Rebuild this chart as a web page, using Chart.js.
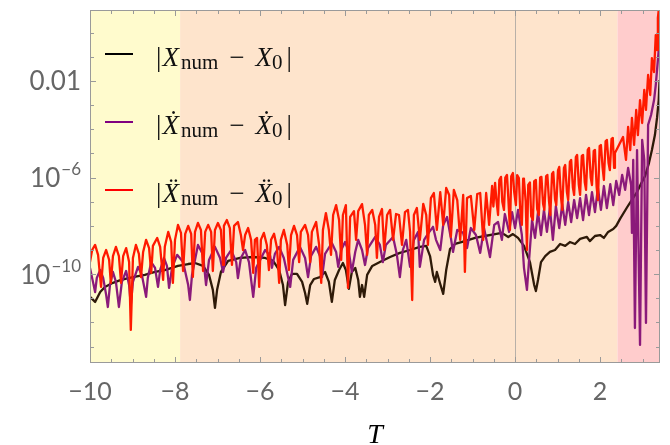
<!DOCTYPE html>
<html>
<head>
<meta charset="utf-8">
<script src="https://cdn.jsdelivr.net/npm/chart.js@4.4.0/dist/chart.umd.min.js"></script>
<style>
  html, body { margin: 0; padding: 0; background: #ffffff; }
  #wrap { width: 670px; height: 445px; }
</style>
</head>
<body>
<div id="wrap"><canvas id="c" width="670" height="445"></canvas></div>
<script>
// ---------------- data (T, log10 of the error) ----------------
const xTickValues = [-10, -8, -6, -4, -2, 0, 2];
const yLabelExps = [-2, -6, -10];
const yLabelTexts = [["0.01", ""], ["10", "−6"], ["10", "−10"]];
const regionEdges = [-10, -7.88, 2.41, 3.41];
const legendLabels = ["X", "Ẋ", "Ẍ"];

const blackT = [-10,-9.88,-9.76,-9.65,-9.46,-9.27,-8.99,-8.71,-8.47,-8.24,-7.93,-7.69,-7.53,-7.34,-7.20,-7.11,-7.06,-7.01,-6.92,-6.75,-6.47,-6.16,-5.88,-5.69,-5.55,-5.46,-5.41,-5.34,-5.25,-5.13,-5.01,-4.94,-4.89,-4.82,-4.73,-4.59,-4.47,-4.38,-4.31,-4.24,-4.14,-4.05,-3.98,-3.91,-3.84,-3.76,-3.69,-3.65,-3.60,-3.55,-3.48,-3.36,-3.18,-2.94,-2.71,-2.47,-2.24,-2.09,-2.00,-1.93,-1.88,-1.84,-1.76,-1.69,-1.62,-1.53,-1.41,-1.18,-0.94,-0.71,-0.47,-0.31,-0.16,-0.05,0.07,0.21,0.35,0.45,0.49,0.54,0.61,0.71,0.82,0.94,1.06,1.18,1.29,1.41,1.53,1.69,1.76,1.88,2.00,2.09,2.19,2.31,2.38,2.47,2.64,2.76,2.87,2.96,3.06,3.15,3.22,3.29,3.34,3.38,3.40];
const blackV = [-10.94,-11.15,-10.74,-10.53,-10.36,-10.24,-10.12,-10.03,-9.91,-9.83,-9.66,-9.58,-9.54,-9.66,-10.03,-10.65,-11.40,-10.65,-9.91,-9.45,-9.33,-9.29,-9.33,-9.45,-9.83,-10.45,-11.28,-10.32,-9.99,-9.99,-10.32,-10.78,-11.23,-10.45,-10.20,-10.12,-9.91,-10.32,-11.15,-10.24,-9.83,-9.54,-9.83,-10.61,-9.91,-9.74,-10.24,-10.94,-10.45,-10.94,-10.03,-9.66,-9.50,-9.29,-9.12,-9.00,-8.87,-8.83,-9.25,-10.03,-10.32,-9.91,-10.41,-10.82,-9.83,-8.96,-8.75,-8.63,-8.50,-8.42,-8.34,-8.29,-8.46,-8.34,-8.50,-8.83,-9.50,-10.45,-10.70,-10.24,-9.50,-9.25,-9.08,-9.00,-8.75,-8.83,-8.67,-8.75,-8.54,-8.46,-8.63,-8.42,-8.38,-8.50,-8.25,-8.13,-8.00,-7.71,-7.22,-6.89,-6.60,-6.27,-5.93,-5.40,-4.86,-4.24,-3.53,-2.79,-1.96];

const purpleT = [-10,-9.93,-9.88,-9.84,-9.76,-9.69,-9.62,-9.58,-9.53,-9.46,-9.39,-9.32,-9.25,-9.15,-9.08,-9.04,-8.99,-8.87,-8.78,-8.68,-8.64,-8.56,-8.47,-8.40,-8.35,-8.26,-8.19,-8.14,-8.07,-7.95,-7.81,-7.69,-7.65,-7.60,-7.46,-7.34,-7.27,-7.20,-7.06,-6.94,-6.87,-6.80,-6.68,-6.56,-6.52,-6.45,-6.35,-6.26,-6.16,-6.09,-5.88,-5.76,-5.72,-5.65,-5.55,-5.44,-5.29,-5.22,-5.06,-4.94,-4.87,-4.80,-4.68,-4.59,-4.54,-4.47,-4.31,-4.21,-4.16,-4.09,-4.00,-3.91,-3.84,-3.76,-3.69,-3.60,-3.53,-3.46,-3.29,-3.18,-3.11,-3.04,-2.87,-2.78,-2.71,-2.64,-2.56,-2.47,-2.38,-2.28,-2.24,-2.14,-2.05,-1.93,-1.86,-1.76,-1.69,-1.60,-1.51,-1.46,-1.36,-1.22,-1.13,-1.04,-0.92,-0.82,-0.73,-0.59,-0.49,-0.40,-0.31,-0.24,-0.14,-0.07,0.00,0.07,0.16,0.21,0.28,0.33,0.40,0.47,0.54,0.61,0.68,0.75,0.82,0.89,0.96,1.04,1.11,1.18,1.25,1.32,1.39,1.46,1.53,1.60,1.67,1.74,1.81,1.88,1.95,2.02,2.09,2.16,2.24,2.31,2.38,2.45,2.52,2.59,2.66,2.73,2.75,2.78,2.82,2.87,2.94,2.99,3.04,3.08,3.13,3.20,3.27,3.31,3.36,3.40];
const purpleV = [-9.74,-10.32,-10.74,-10.16,-9.83,-10.16,-10.86,-11.36,-10.45,-9.91,-10.32,-11.36,-10.32,-9.87,-10.45,-11.28,-10.32,-9.70,-10.03,-10.94,-10.16,-9.50,-9.74,-10.53,-9.83,-9.33,-9.66,-10.57,-9.74,-9.20,-9.50,-10.45,-11.07,-10.03,-8.79,-9.20,-10.45,-9.41,-8.87,-9.33,-9.91,-9.33,-9.00,-9.50,-10.16,-9.33,-9.00,-9.50,-10.94,-9.74,-9.00,-9.25,-9.74,-9.16,-8.87,-9.33,-10.53,-9.41,-8.87,-9.33,-10.12,-9.25,-8.87,-9.25,-10.12,-9.16,-8.71,-9.08,-9.70,-9.00,-8.67,-9.08,-9.91,-9.08,-8.58,-9.00,-9.62,-8.92,-8.46,-8.79,-9.50,-8.79,-8.46,-9.20,-10.12,-9.00,-8.58,-9.70,-8.58,-8.25,-9.70,-8.58,-8.33,-8.04,-8.58,-9.00,-7.96,-7.63,-8.50,-9.08,-8.17,-8.29,-8.92,-8.09,-8.38,-9.12,-8.09,-9.29,-7.96,-7.84,-8.58,-7.51,-8.25,-7.43,-8.09,-7.34,-8.38,-9.74,-10.65,-9.41,-7.76,-8.50,-7.43,-8.38,-7.34,-8.25,-7.26,-8.58,-7.18,-8.09,-7.10,-7.96,-7.01,-7.84,-6.93,-7.68,-6.85,-7.76,-6.72,-7.55,-6.60,-7.43,-6.43,-7.34,-6.35,-7.26,-6.27,-7.14,-6.14,-6.72,-5.89,-6.51,-5.60,-6.31,-8.29,-5.27,-12.23,-4.86,-12.93,-4.44,-5.27,-12.02,-3.82,-3.41,-2.79,-2.17,-1.13,-0.30];

const redT = [-10,-9.95,-9.88,-9.81,-9.74,-9.69,-9.62,-9.55,-9.51,-9.46,-9.39,-9.32,-9.27,-9.22,-9.15,-9.08,-9.04,-8.99,-8.92,-8.85,-8.80,-8.75,-8.68,-8.61,-8.56,-8.52,-8.42,-8.35,-8.28,-8.24,-8.16,-8.09,-8.05,-8.00,-7.93,-7.86,-7.81,-7.76,-7.69,-7.62,-7.58,-7.53,-7.46,-7.39,-7.34,-7.29,-7.22,-7.15,-7.11,-7.06,-6.99,-6.92,-6.87,-6.85,-6.78,-6.71,-6.66,-6.61,-6.52,-6.45,-6.40,-6.35,-6.28,-6.21,-6.16,-6.12,-6.07,-6.02,-5.98,-5.91,-5.84,-5.79,-5.74,-5.67,-5.60,-5.55,-5.51,-5.44,-5.36,-5.32,-5.27,-5.20,-5.13,-5.08,-5.04,-4.94,-4.87,-4.82,-4.78,-4.68,-4.61,-4.56,-4.52,-4.45,-4.38,-4.33,-4.28,-4.21,-4.14,-4.09,-4.05,-3.98,-3.93,-3.88,-3.79,-3.74,-3.69,-3.60,-3.53,-3.48,-3.44,-3.36,-3.29,-3.25,-3.20,-3.13,-3.08,-3.01,-2.94,-2.87,-2.80,-2.73,-2.66,-2.59,-2.52,-2.47,-2.42,-2.38,-2.31,-2.24,-2.16,-2.09,-2.05,-1.98,-1.91,-1.84,-1.76,-1.69,-1.62,-1.55,-1.51,-1.44,-1.36,-1.29,-1.22,-1.18,-1.13,-1.04,-0.96,-0.89,-0.82,-0.75,-0.68,-0.61,
  -0.54,-0.51,-0.47,-0.44,-0.40,-0.37,-0.33,-0.30,-0.26,-0.23,-0.19,-0.16,-0.12,-0.09,-0.05,-0.02,0.02,0.05,0.09,0.12,0.16,0.19,0.21,0.25,0.28,0.31,0.35,0.38,0.42,0.45,0.49,0.52,0.56,0.59,0.62,0.66,0.69,0.73,0.76,0.80,0.83,0.87,0.90,0.94,0.97,1.01,1.04,1.08,1.11,1.15,1.18,1.22,1.25,1.29,1.32,1.36,1.39,1.43,1.46,1.50,1.53,1.57,1.60,1.64,1.67,1.71,1.74,1.78,1.81,1.85,1.88,1.92,1.95,1.99,2.02,2.06,2.09,2.13,2.16,2.20,2.23,2.27,2.30,2.33,2.35,
  2.54,2.61,2.66,2.71,2.75,2.80,2.85,2.89,2.94,2.99,3.04,3.08,3.13,3.18,3.22,3.27,3.31,3.34,3.36,3.38];
const redV = [-9.50,-9.00,-8.79,-9.20,-10.53,-9.33,-9.00,-9.41,-10.36,-9.25,-8.87,-9.25,-10.36,-9.25,-8.92,-9.50,-12.31,-9.33,-8.79,-9.16,-10.12,-9.08,-8.58,-8.92,-9.95,-8.83,-8.50,-8.87,-10.24,-8.87,-8.25,-8.67,-10.36,-8.58,-7.96,-8.29,-9.87,-8.33,-8.00,-8.33,-10.12,-8.25,-7.88,-8.17,-9.87,-8.25,-7.96,-8.25,-9.87,-8.17,-7.88,-8.17,-9.62,-8.00,-7.76,-8.09,-9.62,-8.00,-7.84,-8.38,-9.00,-8.38,-8.09,-8.58,-9.95,-8.58,-8.50,-10.53,-8.58,-8.29,-8.79,-9.83,-8.58,-8.33,-8.92,-10.36,-8.58,-8.17,-8.79,-9.83,-8.38,-8.00,-8.38,-9.50,-8.25,-7.96,-8.38,-9.50,-8.25,-7.84,-8.79,-10.36,-8.17,-7.47,-8.17,-9.20,-7.55,-7.14,-7.76,-9.41,-7.55,-7.14,-10.57,-7.63,-7.39,-8.58,-7.39,-7.10,-7.96,-9.20,-7.55,-7.34,-7.96,-9.33,-7.63,-7.30,-9.00,-7.55,-7.34,-8.58,-7.51,-7.55,-8.79,-7.43,-7.34,-8.25,-11.07,-7.55,-7.26,-8.58,-7.09,-7.55,-8.79,-6.85,-6.64,-8.17,-6.60,-7.96,-6.43,-6.72,-8.46,-6.51,-6.93,-8.58,-6.72,-9.91,-6.85,-6.76,-8.17,-6.68,-6.64,-8.58,-6.64,-7.96,
  -6.35,-7.20,-6.22,-6.90,-7.55,-6.10,-5.97,-7.00,-7.34,-6.00,-5.89,-6.80,-8.17,-5.95,-5.81,-6.60,-7.14,-5.90,-6.02,-7.30,-7.96,-6.05,-6.10,-7.00,-9.00,-6.30,-6.20,-7.60,-7.76,-6.15,-6.10,-7.30,-7.55,-6.00,-5.97,-7.10,-7.34,-5.95,-5.89,-7.00,-7.55,-5.85,-5.77,-6.90,-7.14,-5.70,-5.56,-6.80,-7.34,-5.60,-5.48,-6.60,-6.93,-5.35,-5.27,-6.40,-6.72,-5.15,-5.06,-6.30,-6.72,-5.10,-5.06,-6.20,-6.51,-4.85,-4.77,-6.00,-6.31,-4.90,-4.86,-6.40,-6.93,-4.70,-4.65,-5.60,-6.10,-4.50,-4.44,-5.40,-5.69,-4.40,-4.36,-5.60,-4.98,
  -4.32,-5.27,-3.90,-4.86,-3.53,-4.65,-3.20,-4.24,-2.79,-3.74,-2.37,-3.20,-1.75,-2.58,-1.05,-1.63,-0.10,-0.72,0.61,0.94];

const toPoints = (ts, vs) => ts.map((t, i) => ({ x: t, y: Math.pow(10, vs[i]) }));

// ---------------- look ----------------
const FRAME = '#9a9a9a';
const LABEL = '#666666';
const LABEL_FONT = 'Lato, "Open Sans", sans-serif';
const SERIF = '"Liberation Serif", "DejaVu Serif", serif';
const lineColors = ['#2e1a08', '#8b1a7a', '#ff1a00'];
const legendColors = ['#000000', '#800080', '#ff0000'];
const regionColors = ['#fffbcd', '#fee4cc', '#ffcccc'];

const decor = {
  id: 'decor',
  beforeDatasetsDraw(chart) {
    const { ctx, chartArea: a, scales: { x } } = chart;
    ctx.save();
    for (let i = 0; i < 3; i++) {
      const x0 = x.getPixelForValue(regionEdges[i]);
      const x1 = x.getPixelForValue(regionEdges[i + 1]);
      ctx.fillStyle = regionColors[i];
      ctx.fillRect(x0, a.top, x1 - x0, a.bottom - a.top);
    }
    const z = Math.round(x.getPixelForValue(0)) + 0.5;
    ctx.strokeStyle = '#b8b0a8';
    ctx.lineWidth = 1;
    ctx.beginPath(); ctx.moveTo(z, a.top); ctx.lineTo(z, a.bottom); ctx.stroke();
    ctx.restore();
  },
  afterDatasetsDraw(chart) {
    const { ctx, chartArea: a, scales: { x, y } } = chart;
    ctx.save();
    ctx.strokeStyle = FRAME;
    ctx.lineWidth = 1;
    ctx.strokeRect(Math.round(a.left) + 0.5, Math.round(a.top) + 0.5,
                   Math.round(a.right - a.left) - 1, Math.round(a.bottom - a.top) - 1);
    ctx.beginPath();
    for (let t = -10; t <= 3.41; t += 0.5) {
      const px = Math.round(x.getPixelForValue(t)) + 0.5;
      const len = (Math.abs(t % 2) < 1e-9) ? 6 : 4;
      ctx.moveTo(px, a.bottom); ctx.lineTo(px, a.bottom - len);
      ctx.moveTo(px, a.top); ctx.lineTo(px, a.top + len);
    }
    for (let e = -13; e <= 0; e++) {
      const py = Math.round(y.getPixelForValue(Math.pow(10, e))) + 0.5;
      const len = yLabelExps.includes(e) ? 6 : 4;
      ctx.moveTo(a.left, py); ctx.lineTo(a.left + len, py);
      ctx.moveTo(a.right, py); ctx.lineTo(a.right - len, py);
    }
    ctx.stroke();

    // y tick labels
    ctx.fillStyle = LABEL;
    ctx.textBaseline = 'middle';
    yLabelExps.forEach((e, i) => {
      const py = y.getPixelForValue(Math.pow(10, e));
      const [base, sup] = yLabelTexts[i];
      const right = a.left - 9;
      ctx.font = '17px ' + LABEL_FONT;
      const supW = sup ? ctx.measureText(sup).width : 0;
      ctx.font = '26px ' + LABEL_FONT;
      const baseW = ctx.measureText(base).width;
      ctx.textAlign = 'left';
      ctx.fillText(base, right - supW - baseW - (sup ? 1 : 0), py + 1);
      if (sup) {
        ctx.font = '17px ' + LABEL_FONT;
        ctx.fillText(sup, right - supW, py - 8);
      }
    });

    // x axis title
    ctx.font = 'italic 28px ' + SERIF;
    ctx.fillStyle = '#000';
    ctx.textAlign = 'center';
    ctx.textBaseline = 'alphabetic';
    ctx.fillText('T', (a.left + a.right) / 2, 443);

    // legend
    const rows = [54, 122, 190];
    rows.forEach((ly, i) => {
      ctx.strokeStyle = legendColors[i];
      ctx.lineWidth = 2;
      ctx.beginPath(); ctx.moveTo(105, ly); ctx.lineTo(133, ly); ctx.stroke();
      let cx = 156;
      const base = ly + 12;
      ctx.fillStyle = '#111';
      ctx.textAlign = 'left';
      const put = (txt, font, dy) => {
        ctx.font = font;
        ctx.fillText(txt, cx, base + (dy || 0));
        cx += ctx.measureText(txt).width;
      };
      const up = '27px ' + SERIF, it = 'italic 27px ' + SERIF, sm = '21px ' + SERIF;
      put('|', up);
      cx += 1;
      put(legendLabels[i], it);
      cx += 2;
      put('num', sm, 3);
      cx += 11;
      put('−', up);
      cx += 11;
      put(legendLabels[i], it);
      put('0', sm, 3);
      cx += 4;
      put('|', up);
    });
    ctx.restore();
  }
};

new Chart(document.getElementById('c'), {
  type: 'line',
  data: {
    datasets: [
      { label: '|X_num − X_0|', data: toPoints(blackT, blackV), borderColor: lineColors[0], order: 3 },
      { label: '|Ẋ_num − Ẋ_0|', data: toPoints(purpleT, purpleV), borderColor: lineColors[1], order: 2 },
      { label: '|Ẍ_num − Ẍ_0|', data: toPoints(redT, redV), borderColor: lineColors[2], order: 1 }
    ]
  },
  options: {
    responsive: false,
    animation: false,
    devicePixelRatio: 1,
    layout: { padding: { left: 0, right: 10, top: 10, bottom: 0 } },
    elements: {
      point: { radius: 0 },
      line: { borderWidth: 2.3, tension: 0, borderJoinStyle: 'round', fill: false }
    },
    plugins: { legend: { display: false }, tooltip: { enabled: false } },
    scales: {
      x: {
        type: 'linear',
        min: -10, max: 3.41,
        afterBuildTicks: (s) => { s.ticks = xTickValues.map(v => ({ value: v })); },
        afterFit: (s) => { s.height = 82; },
        grid: { display: false, drawTicks: false },
        border: { display: false },
        ticks: {
          padding: 14,
          color: LABEL,
          font: { family: LABEL_FONT, size: 25 },
          maxRotation: 0,
          callback: (v) => (v < 0 ? '−' + Math.abs(v) : String(v))
        }
      },
      y: {
        type: 'logarithmic',
        min: Math.pow(10, -13.68), max: Math.pow(10, 0.94),
        afterBuildTicks: (s) => { s.ticks = yLabelExps.map(e => ({ value: Math.pow(10, e) })); },
        afterFit: (s) => { s.width = 90; },
        grid: { display: false, drawTicks: false },
        border: { display: false },
        ticks: { display: false }
      }
    }
  },
  plugins: [decor]
});
</script>
</body>
</html>
